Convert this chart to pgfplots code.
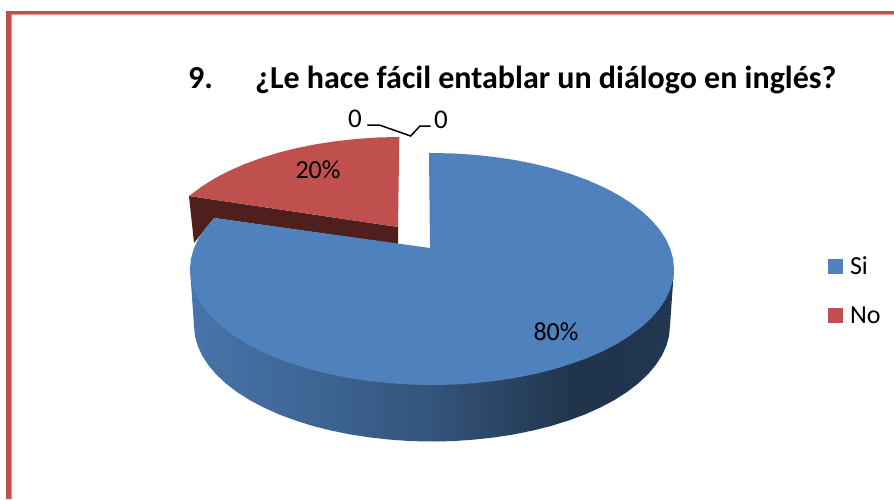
\documentclass[border=0pt]{standalone}
\usepackage{fontspec}
\setmainfont{Carlito}
\usepackage{pgfplots}
\pgfplotsset{compat=1.18}
\definecolor{pieblue}{HTML}{4F81BD}
\definecolor{piered}{HTML}{C0504D}
\definecolor{darkred}{HTML}{4F1F1D}
\definecolor{frameLight}{HTML}{E3A6A4}
\pgfdeclarehorizontalshading{sideblue}{100bp}{
 color(0bp)=(pieblue!90!black); color(25bp)=(pieblue!90!black);
 color(38bp)=(pieblue!78!black); color(50bp)=(pieblue!65!black);
 color(65bp)=(pieblue!40!black); color(75bp)=(pieblue!42!black); color(100bp)=(pieblue!42!black)}
\begin{document}
\begin{tikzpicture}
\begin{axis}[
  scale only axis, width=894pt, height=499pt,
  xmin=0, xmax=894, ymin=0, ymax=499, y dir=reverse,
  hide axis, clip=true,
  legend style={at={(828/894,1-255/499)},anchor=north west,draw=none,fill=none,
    font=\fontsize{26}{30}\selectfont,
    inner sep=0pt,outer sep=0pt,row sep=26pt,
    /tikz/every odd column/.append style={column sep=5pt}},
  legend cell align=left,
  legend image code/.code={\fill[#1,draw=none] (0pt,-7.5pt) rectangle (15pt,7.5pt);},
]
% page
\addplot[forget plot,draw=none,fill=white] coordinates {(0,0)(894,0)(894,499)(0,499)} -- cycle;
% frame
\addplot[forget plot,draw=none,fill=frameLight] coordinates {(11,14)(894,14)(894,15.2)(12.2,15.2)(12.2,499)(11,499)} -- cycle;
\addplot[forget plot,draw=none,fill=piered] coordinates {(6,11)(894,11)(894,14)(11,14)(11,499)(6,499)} -- cycle;
% legend keys
\addlegendimage{fill=pieblue}
\addlegendentry{Si}
\addlegendimage{fill=piered}
\addlegendentry{No}
% red slice: side wall
\addplot[forget plot,draw=none,fill=darkred] coordinates {(189,196)(398,227)(398,244)(214,218)(194,243)} -- cycle;
% red slice: top (20%)
\addplot[forget plot,draw=none,fill=piered] coordinates {
(398,227)(399.3,137)(378.9,137.4)(358,138.8)(337.4,141)(317.2,144)(297.7,147.9)(279,152.5)(261.2,158)(244.4,164.1)(228.9,171)(214.6,178.4)(201.8,186.5)(189,196)} -- cycle;
% blue slice: side wall
\addplot[forget plot,draw=none,shading=sideblue] coordinates {
(190,269)(194,325.5)(194.9,335.6)(197.6,345.6)(202.1,355.5)(208.4,365.2)(216.3,374.5)(225.9,383.5)(237,392)(249.7,400.1)(263.7,407.5)(279,414.4)(295.5,420.5)(313,426)(331.4,430.6)(350.6,434.5)(370.4,437.5)(390.7,439.7)(411.2,441.1)(432,441.5)
(452.8,441.1)(473.3,439.7)(493.6,437.5)(513.4,434.5)(532.6,430.6)(551,426)(568.5,420.5)(585,414.4)(600.3,407.5)(614.3,400.1)(627,392)(638.1,383.5)(647.7,374.5)(655.6,365.2)(661.9,355.5)(666.4,345.6)(669.1,335.6)(670,325.5)(674,269)} -- cycle;
% blue slice: inner wall edge
\addplot[forget plot,color=pieblue!45!black,line width=0.9pt] coordinates {(431,222)(431,248)};
% blue slice: top (80%)
\addplot[forget plot,draw=none,fill=pieblue] coordinates {
(430,248)(429,153)(453.1,153.4)(474,154.8)(494.6,157)(514.8,160)(534.3,163.9)(553,168.5)(570.8,174)(587.6,180.1)(603.1,187)(617.4,194.4)(630.2,202.5)(641.6,211)(651.3,220)(659.4,229.3)(665.8,239)(670.3,248.9)(673.1,258.9)(674,269)
(673.1,279.1)(670.3,289.1)(665.8,299)(659.4,308.7)(651.3,318)(641.6,327)(630.2,335.5)(617.4,343.6)(603.1,351)(587.6,357.9)(570.8,364)(553,369.5)(534.3,374.1)(514.8,378)(494.6,381)(474,383.2)(453.1,384.6)(432,385)
(410.9,384.6)(390,383.2)(369.4,381)(349.2,378)(329.7,374.1)(311,369.5)(293.2,364)(276.4,357.9)(260.9,351)(246.6,343.6)(233.8,335.5)(222.4,327)(212.7,318)(204.6,308.7)(198.2,299)(193.7,289.1)(190.9,279.1)(190,269)
(190.9,258.9)(193.7,248.9)(198.2,239)(204.6,229.3)(212.7,220)(214,218)} -- cycle;
% leader line
\addplot[forget plot,color=black,line width=1.5pt] coordinates {(367.3,125)(379.3,125)(410.7,136)(420,126)(430.7,126)};
% texts
\node[anchor=base west,inner sep=0pt,font=\fontsize{32}{36}\selectfont\bfseries] at (axis cs:188,88) {9.};
\node[anchor=base west,inner sep=0pt,font=\fontsize{32}{36}\selectfont\bfseries] at (axis cs:255,88) {¿Le hace fácil entablar un diálogo en inglés?};
\node[anchor=base,inner sep=0pt,font=\fontsize{27}{30}\selectfont] at (axis cs:355,127) {0};
\node[anchor=base,inner sep=0pt,font=\fontsize{27}{30}\selectfont] at (axis cs:441,128) {0};
\node[anchor=base,inner sep=0pt,font=\fontsize{26}{30}\selectfont] at (axis cs:318,178) {20\%};
\node[anchor=base,inner sep=0pt,font=\fontsize{26}{30}\selectfont] at (axis cs:556,340) {80\%};
\end{axis}
\end{tikzpicture}
\end{document}
